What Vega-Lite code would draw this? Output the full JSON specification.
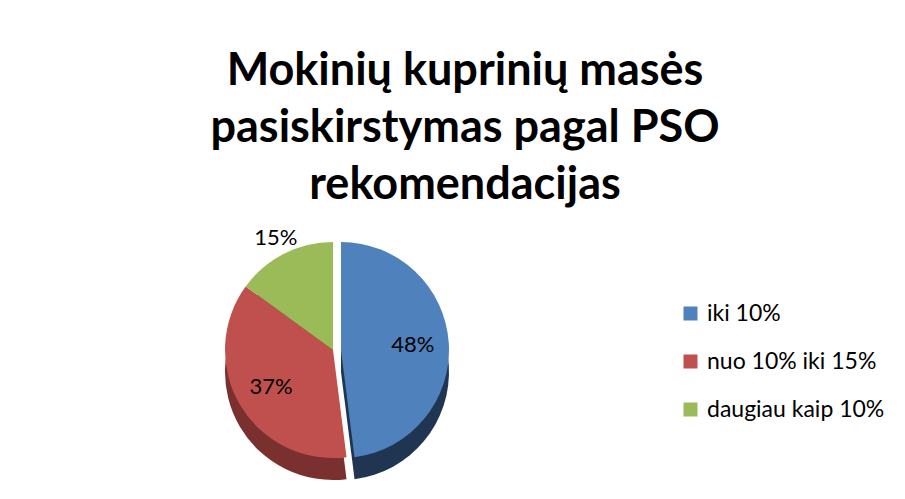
{
  "$schema": "https://vega.github.io/schema/vega-lite/v6.json",
  "width": 650,
  "height": 250,
  "autosize": "none",
  "padding": {"left": 8, "top": 225, "right": 247, "bottom": 24},
  "background": "white",
  "config": {"view": {"stroke": null}, "font": "Lato"},
  "title": {
    "text": ["Mokinių kuprinių masės", "pasiskirstymas pagal PSO", "rekomendacijas"],
    "font": "Lato",
    "fontSize": 45,
    "fontWeight": "bold",
    "lineHeight": 57,
    "color": "black",
    "anchor": "middle",
    "dx": 132,
    "offset": 17
  },
  "data": {
    "values": [
      {"k": "iki 10%", "v": 48, "o": 1, "lbl": "48%"},
      {"k": "nuo 10% iki 15%", "v": 37, "o": 2, "lbl": "37%"},
      {"k": "daugiau kaip 10%", "v": 15, "o": 3, "lbl": "15%"}
    ]
  },
  "encoding": {
    "theta": {"field": "v", "type": "quantitative", "stack": true},
    "order": {"field": "o", "type": "quantitative"}
  },
  "layer": [
    {
      "mark": {
        "type": "arc",
        "outerRadius": 108,
        "yOffset": 22,
        "xOffset": {"expr": "datum.k == 'iki 10%' ? 8 : 0"},
        "fill": {"expr": "datum.k == 'iki 10%' ? '#1F3552' : datum.k == 'nuo 10% iki 15%' ? '#7A302E' : '#3D4A22'"}
      }
    },
    {
      "mark": {"type": "arc", "outerRadius": 108, "xOffset": {"expr": "datum.k == 'iki 10%' ? 8 : 0"}},
      "encoding": {
        "color": {
          "field": "k",
          "type": "nominal",
          "sort": ["iki 10%", "nuo 10% iki 15%", "daugiau kaip 10%"],
          "scale": {"domain": ["iki 10%", "nuo 10% iki 15%", "daugiau kaip 10%"], "range": ["#4F81BD", "#C0504D", "#9BBB59"]},
          "legend": {
            "title": null,
            "orient": "right",
            "offset": -56,
            "padding": 77,
            "symbolType": "square",
            "symbolSize": 196,
            "symbolStrokeWidth": 0,
            "labelFontSize": 23,
            "labelFont": "Lato",
            "labelColor": "black",
            "labelOffset": 5,
            "labelLimit": 300,
            "rowPadding": 24
          }
        }
      }
    },
    {
      "mark": {"type": "text", "radius": 72, "fontSize": 22, "font": "Lato", "color": "black", "xOffset": {"expr": "datum.k == 'iki 10%' ? 8 : 0"}},
      "encoding": {"text": {"condition": {"test": "datum.o < 3", "field": "lbl"}, "value": ""}}
    },
    {
      "mark": {"type": "text", "radius": 126, "fontSize": 22, "font": "Lato", "color": "black"},
      "encoding": {"text": {"condition": {"test": "datum.o == 3", "field": "lbl"}, "value": ""}}
    }
  ]
}
